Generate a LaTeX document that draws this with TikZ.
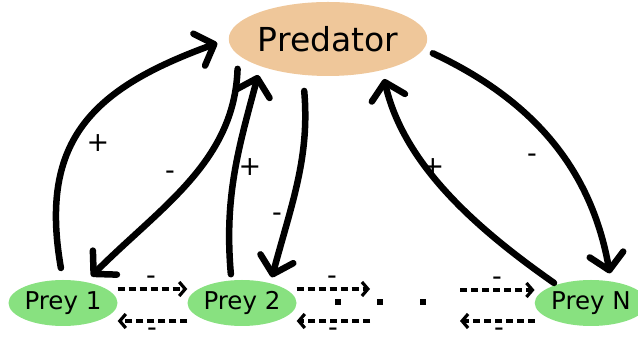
\documentclass[tikz,border=0pt]{standalone}
\usepackage{fontspec}
\setmainfont{DejaVu Sans}
\usetikzlibrary{shapes.geometric,arrows.meta}
\definecolor{predcolor}{RGB}{239,199,154}
\definecolor{preycolor}{RGB}{136,225,128}

\begin{document}
\begin{tikzpicture}[x=1pt,y=1pt,
    pred node/.style={ellipse,fill=predcolor,minimum width=190pt,minimum height=74pt,inner sep=0pt,font=\fontsize{33}{36}\selectfont},
    prey node/.style={ellipse,fill=preycolor,minimum width=109pt,minimum height=46pt,inner sep=0pt,font=\fontsize{24.5}{27}\selectfont},
    link/.style={-{Straight Barb[length=16pt,width=34pt,round]},line width=6.5pt,line cap=round},
    flow/.style={-{Straight Barb[length=6pt,width=14pt]},line width=3.2pt,dash pattern=on 7pt off 4pt},
    sign/.style={font=\fontsize{27}{30}\selectfont,inner sep=0pt},
    minus/.style={sign,anchor=base},
    dot/.style={fill,minimum size=6pt,inner sep=0pt}]
    \useasboundingbox (0,0) rectangle (638,339);
    \node[pred node] (pred) at (328,300) {Predator};
    \node[prey node] (prey1) at (63,36) {Prey 1};
    \node[prey node] (prey2) at (242,36) {Prey 2};
    \node[prey node] (preyN) at (591,36) {Prey N};
    \coordinate (gapL) at (370,36);
    \coordinate (gapR) at (460,36);
    \foreach \x/\n in {338/1,380/2,423/3}
      \node[dot] (dot\n) at (\x,37) {};

    % predator <-> prey links
    \path[link]
    (prey1.north) edge[out=100,in=200,looseness=1.25,shorten <=12pt,shorten >=12pt] (pred.west)
    (pred.190) edge[out=268,in=45,shorten <=14pt,shorten >=8pt] (prey1.43)
    (prey2.115) edge[out=95,in=255,shorten <=6pt,shorten >=9pt] (pred.202)
    (pred.235) edge[out=275,in=75,shorten <=16pt,shorten >=6pt] (prey2.35)
    (preyN.152) edge[out=145,in=283,looseness=0.9,shorten <=3pt,shorten >=9pt] (pred.330)
    (pred.354) edge[out=335,in=100,shorten <=10pt,shorten >=8pt] (preyN.47);

    % prey <-> prey
    \path[flow]
    ([yshift=14pt]prey1.east) edge ([yshift=14pt]prey2.west)
    ([yshift=-18pt]prey2.west) edge ([yshift=-18pt]prey1.east)
    ([yshift=14pt]prey2.east) edge ([yshift=14pt]gapL)
    ([yshift=-18pt]gapL) edge ([yshift=-18pt]prey2.east)
    ([yshift=13pt]gapR) edge ([yshift=13pt]preyN.west)
    ([yshift=-18pt]preyN.west) edge ([yshift=-18pt]gapR);

    \node[sign] (s1) at (98,196) {+};
    \node[minus] (s2) at (170,159) {-};
    \node[sign] (s3) at (250,172) {+};
    \node[minus] (s4) at (277,117) {-};
    \node[sign] (s5) at (433,172) {+};
    \node[minus] (s6) at (532,176) {-};
    \node[minus] (s7) at (151,54) {-};
    \node[minus] (s8) at (152,2) {-};
    \node[minus] (s9) at (332,54) {-};
    \node[minus] (s10) at (333,2) {-};
    \node[minus] (s11) at (497,53) {-};
    \node[minus] (s12) at (499,2) {-};
\end{tikzpicture}
\end{document}
